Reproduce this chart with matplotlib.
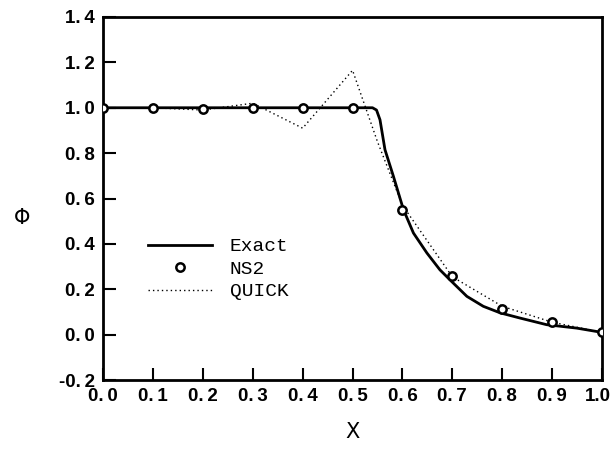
import matplotlib
matplotlib.use("Agg")
import matplotlib.pyplot as plt
import matplotlib.transforms as mtransforms
import numpy as np

# Exact solution
exact_x = [0.0, 0.1, 0.2, 0.3, 0.4, 0.5, 0.54, 0.548, 0.555, 0.565, 0.582, 0.602,
           0.622, 0.649, 0.675, 0.695, 0.729, 0.762, 0.796, 0.836, 0.889, 0.949, 1.0]
exact_y = [1.0, 1.0, 1.0, 1.0, 1.0, 1.0, 1.0, 0.99, 0.947, 0.815, 0.697, 0.551,
           0.448, 0.36, 0.286, 0.242, 0.169, 0.125, 0.096, 0.073, 0.044, 0.029, 0.01]

# NS2 scheme
ns2_x = [0.0, 0.1, 0.2, 0.3, 0.4, 0.5, 0.6, 0.7, 0.8, 0.9, 1.0]
ns2_y = [1.0, 1.0, 0.995, 1.0, 1.0, 1.0, 0.55, 0.26, 0.115, 0.054, 0.01]

# QUICK scheme
quick_x = [0.0, 0.1, 0.2, 0.3, 0.4, 0.5, 0.55, 0.6, 0.7, 0.8, 0.9, 1.0]
quick_y = [1.0, 1.0, 0.99, 1.02, 0.91, 1.165, 0.85, 0.57, 0.255, 0.125, 0.055, 0.01]

xticks = np.round(np.arange(0.0, 1.01, 0.1), 1)
yticks = np.round(np.arange(-0.2, 1.41, 0.2), 1)

tick_font = dict(family=["Liberation Sans", "DejaVu Sans"], weight="bold", size=13.5)


def tick_text(v):
    return f"{v:.1f}".replace(".", ".\u2009")


fig = plt.figure(figsize=(6.15, 4.53), dpi=100)
ax = fig.add_axes([0.1675, 0.161, 0.8115, 0.8015])

ax.plot(exact_x, exact_y, color="black", linewidth=2.0, label="Exact")
ax.plot(ns2_x, ns2_y, linestyle="none", marker="o", markersize=6,
        markerfacecolor="white", markeredgecolor="black", markeredgewidth=1.8,
        label="NS2", zorder=4)
ax.plot(quick_x, quick_y, color="black", linewidth=1.0, linestyle=(0, (1, 2.2)),
        label="QUICK")

ax.set_xlim(0.0, 1.0)
ax.set_ylim(-0.2, 1.4)
ax.set_xticks(xticks)
ax.set_yticks(yticks)
xlabels = [tick_text(v) for v in xticks]
xlabels[-1] = f"{xticks[-1]:.1f}"  # last label sits against the right edge
ax.set_xticklabels(xlabels, fontdict=tick_font)
ax.set_yticklabels([tick_text(v) for v in yticks], fontdict=tick_font)
ax.tick_params(direction="in", length=9, width=1.5, pad=6,
               top=False, right=False)
for spine in ax.spines.values():
    spine.set_linewidth(2.0)

# nudge the "1.0" label left so it stays inside the figure
last = ax.get_xticklabels()[-1]
last.set_transform(last.get_transform()
                   + mtransforms.ScaledTranslation(-3 / 72, 0, fig.dpi_scale_trans))

ax.set_xlabel("X", fontsize=15, labelpad=12)
ax.set_ylabel("Φ", fontsize=15, rotation=0, va="center")
ax.yaxis.set_label_coords(-0.162, 0.446)

ax.legend(loc="upper left", bbox_to_anchor=(0.055, 0.44), frameon=False,
          handlelength=3.3, handletextpad=0.9, labelspacing=0.25,
          prop=dict(family="Liberation Mono", size=14))

fig.savefig("out.png", dpi=100)
